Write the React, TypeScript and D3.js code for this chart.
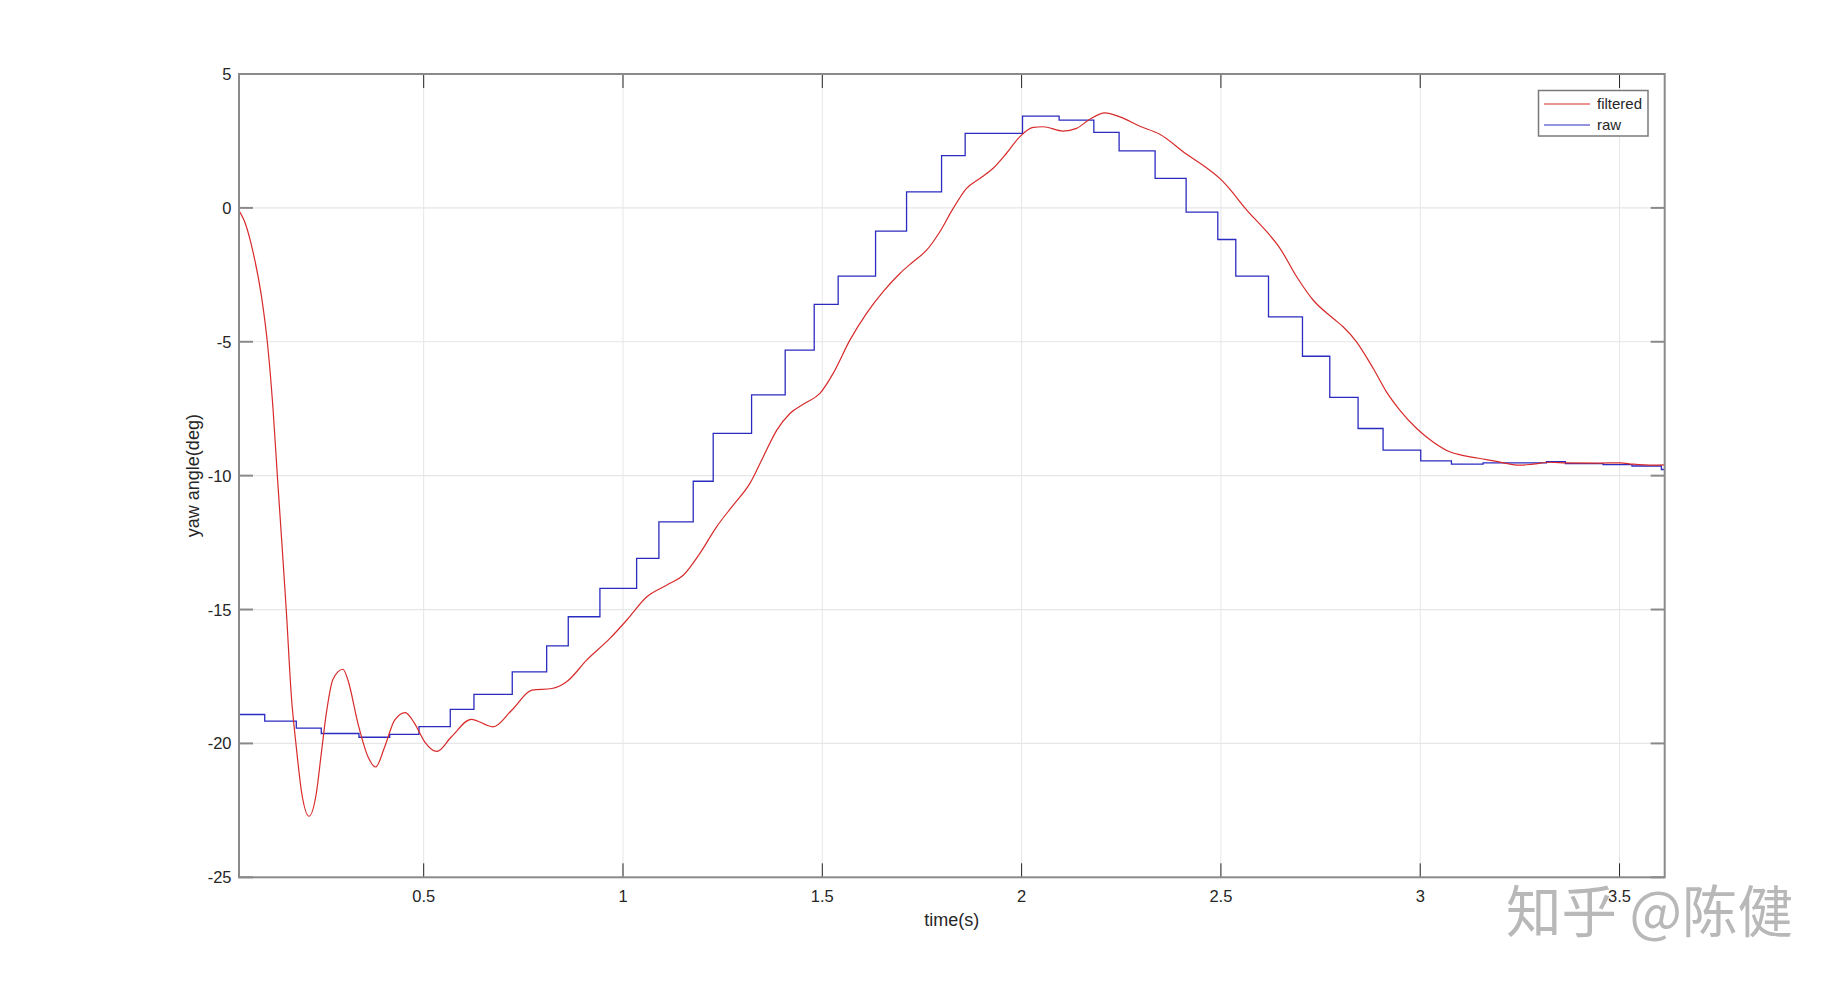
import React from "react";
import * as d3 from "d3";

// ---- data ----
const filteredT = [0.0367, 0.051, 0.0718, 0.0926, 0.1077, 0.122, 0.1328, 0.1446, 0.1553, 0.1679, 0.1804, 0.193, 0.2123, 0.2306, 0.2431, 0.2557, 0.2725, 0.2975, 0.3101, 0.3352, 0.3603, 0.3796, 0.4021, 0.4272, 0.4538, 0.4774, 0.5025, 0.5333, 0.5692, 0.6193, 0.6738, 0.7214, 0.7716, 0.8217, 0.8586, 0.9088, 0.9672, 1.0091, 1.0593, 1.1094, 1.1511, 1.193, 1.2348, 1.2765, 1.3184, 1.3517, 1.3859, 1.4187, 1.4563, 1.4939, 1.5273, 1.5692, 1.611, 1.6527, 1.6946, 1.728, 1.7616, 1.7949, 1.8283, 1.8619, 1.8952, 1.9286, 1.9622, 1.9956, 2.0289, 2.054, 2.1042, 2.1378, 2.1711, 2.2088, 2.2464, 2.2966, 2.3467, 2.4142, 2.4638, 2.4972, 2.5146, 2.5648, 2.615, 2.6482, 2.6901, 2.7312, 2.7819, 2.8065, 2.8401, 2.8822, 2.9153, 2.9487, 2.991, 3.0323, 3.0741, 3.116, 3.1661, 3.2078, 3.2496, 3.283, 3.3249, 3.3668, 3.4503, 3.5004, 3.5338, 3.584, 3.6133];
const filteredV = [-0.1, -0.52, -1.64, -3.26, -5.0, -7.49, -9.98, -12.6, -15.02, -18.2, -20.13, -21.75, -22.72, -21.87, -20.38, -18.88, -17.6, -17.23, -17.64, -19.26, -20.5, -20.88, -20.13, -19.13, -18.85, -19.26, -19.94, -20.3, -19.76, -19.1, -19.38, -18.75, -18.01, -17.95, -17.7, -16.89, -16.08, -15.4, -14.53, -14.09, -13.72, -12.9, -11.91, -11.1, -10.29, -9.3, -8.3, -7.68, -7.3, -6.93, -6.18, -4.94, -3.94, -3.13, -2.45, -2.01, -1.58, -0.89, -0.02, 0.73, 1.1, 1.48, 2.04, 2.66, 3.01, 3.03, 2.87, 2.97, 3.31, 3.55, 3.4, 3.05, 2.75, 2.0, 1.5, 1.1, 0.83, -0.08, -0.89, -1.51, -2.57, -3.44, -4.13, -4.44, -5.0, -6.0, -6.87, -7.55, -8.24, -8.74, -9.11, -9.27, -9.4, -9.52, -9.61, -9.57, -9.5, -9.52, -9.53, -9.52, -9.57, -9.61, -9.6];

const rawT = [0.0367, 0.1012, 0.1804, 0.2431, 0.3377, 0.4147, 0.4882, 0.5667, 0.6261, 0.7222, 0.8085, 0.8627, 0.9421, 1.0342, 1.0901, 1.1762, 1.2263, 1.3226, 1.4069, 1.4797, 1.5398, 1.6336, 1.7114, 1.7992, 1.8584, 2.0023, 2.0941, 2.1812, 2.2446, 2.3349, 2.4127, 2.4922, 2.5373, 2.6194, 2.7046, 2.7731, 2.8441, 2.9068, 3.0013, 3.0783, 3.1576, 3.3166, 3.3642, 3.4586, 3.5313, 3.605];
const rawV = [-18.92, -19.17, -19.43, -19.63, -19.77, -19.66, -19.37, -18.73, -18.17, -17.33, -16.36, -15.27, -14.21, -13.09, -11.73, -10.21, -8.42, -6.98, -5.31, -3.6, -2.55, -0.87, 0.6, 1.95, 2.78, 3.43, 3.28, 2.82, 2.13, 1.1, -0.16, -1.18, -2.55, -4.07, -5.54, -7.08, -8.24, -9.05, -9.45, -9.57, -9.52, -9.48, -9.55, -9.59, -9.64, -9.77];

const xTicks = [0.5, 1, 1.5, 2, 2.5, 3, 3.5];
const xTickLabels = ["0.5", "1", "1.5", "2", "2.5", "3", "3.5"];
const yTicks = [-25, -20, -15, -10, -5, 0, 5];
const yTickLabels = ["-25", "-20", "-15", "-10", "-5", "0", "5"];
const seriesNames = ["filtered", "raw"];

const X_DOMAIN: [number, number] = [0.0367, 3.6133];
const Y_DOMAIN: [number, number] = [-25, 5];

export default function App() {
  const W = 1840, H = 987;
  const L = 239, R = 1664.7, T = 74, B = 877.3;
  const x = d3.scaleLinear().domain(X_DOMAIN).range([L, R]);
  const y = d3.scaleLinear().domain(Y_DOMAIN).range([B, T]);

  const redPts: [number, number][] = filteredT.map((t, i) => [t, filteredV[i]]);
  const bluePts: [number, number][] = rawT.map((t, i) => [t, rawV[i]]);
  bluePts.push([X_DOMAIN[1], rawV[rawV.length - 1]]);

  const redLine = d3.line<[number, number]>().x(d => x(d[0])).y(d => y(d[1])).curve(d3.curveMonotoneX);
  const blueLine = d3.line<[number, number]>().x(d => x(d[0])).y(d => y(d[1])).curve(d3.curveStepAfter);

  const font = "'Liberation Sans', Arial, Helvetica, sans-serif";
  const axisCol = "#8a8a8a";
  const tickLen = 14;

  return (
    <svg width={W} height={H} style={{ position: "absolute", left: 0, top: 0, display: "block", background: "#fff" }}>
      <defs>
        <clipPath id="plotClip">
          <rect x={L} y={T} width={R - L} height={B - T} />
        </clipPath>
      </defs>
      <rect x={0} y={0} width={W} height={H} fill="#fff" />
      {/* grid */}
      {xTicks.map((t, i) => (
        <line key={"gx" + i} x1={x(t)} x2={x(t)} y1={T} y2={B} stroke="#e6e6e6" strokeWidth={1} />
      ))}
      {yTicks.slice(1, -1).map((v, i) => (
        <line key={"gy" + i} x1={L} x2={R} y1={y(v)} y2={y(v)} stroke="#e6e6e6" strokeWidth={1.2} />
      ))}
      {/* watermark */}
      <text x={1506} y={932} fontFamily="'Noto Sans CJK SC', sans-serif" fontSize={56} fill="#b8b8b8" textLength={287} lengthAdjust="spacingAndGlyphs">知乎 @陈健</text>
      {/* data */}
      <g clipPath="url(#plotClip)">
        <path d={blueLine(bluePts) || ""} fill="none" stroke="#2b2bc0" strokeWidth={1.3} />
        <path d={redLine(redPts) || ""} fill="none" stroke="#d82a2a" strokeWidth={1.2} />
      </g>
      {/* ticks */}
      {xTicks.map((t, i) => (
        <g key={"xt" + i}>
          <line x1={x(t)} x2={x(t)} y1={B} y2={B - tickLen} stroke="#262626" strokeWidth={1} />
          <line x1={x(t)} x2={x(t)} y1={T} y2={T + tickLen} stroke="#262626" strokeWidth={1} />
          <text x={x(t)} y={902} textAnchor="middle" fontFamily={font} fontSize={16.5} fill="#262626">{xTickLabels[i]}</text>
        </g>
      ))}
      {yTicks.map((v, i) => (
        <g key={"yt" + i}>
          <line x1={L} x2={L + tickLen} y1={y(v)} y2={y(v)} stroke={axisCol} strokeWidth={2} />
          <line x1={R} x2={R - tickLen} y1={y(v)} y2={y(v)} stroke={axisCol} strokeWidth={2} />
          <text x={231.5} y={y(v) + 6} textAnchor="end" fontFamily={font} fontSize={16.5} fill="#262626">{yTickLabels[i]}</text>
        </g>
      ))}
      {/* axes box */}
      <rect x={L} y={T} width={R - L} height={B - T} fill="none" stroke={axisCol} strokeWidth={2} />
      {/* axis labels */}
      <text x={(L + R) / 2} y={926} textAnchor="middle" fontFamily={font} fontSize={18} fill="#262626">time(s)</text>
      <text transform={`translate(199,${(T + B) / 2}) rotate(-90)`} textAnchor="middle" fontFamily={font} fontSize={18} fill="#262626">yaw angle(deg)</text>
      {/* legend */}
      <rect x={1538.5} y={90.5} width={109.5} height={45.5} fill="#fff" stroke="#7a7a7a" strokeWidth={1.5} />
      {seriesNames.map((n, i) => (
        <g key={"lg" + i}>
          <line x1={1544} x2={1590} y1={104 + i * 21} y2={104 + i * 21} stroke={i === 0 ? "#d82a2a" : "#2b2bc0"} strokeWidth={1.2} />
          <text x={1597} y={104 + i * 21 + 5} fontFamily={font} fontSize={15} fill="#262626">{n}</text>
        </g>
      ))}
    </svg>
  );
}
